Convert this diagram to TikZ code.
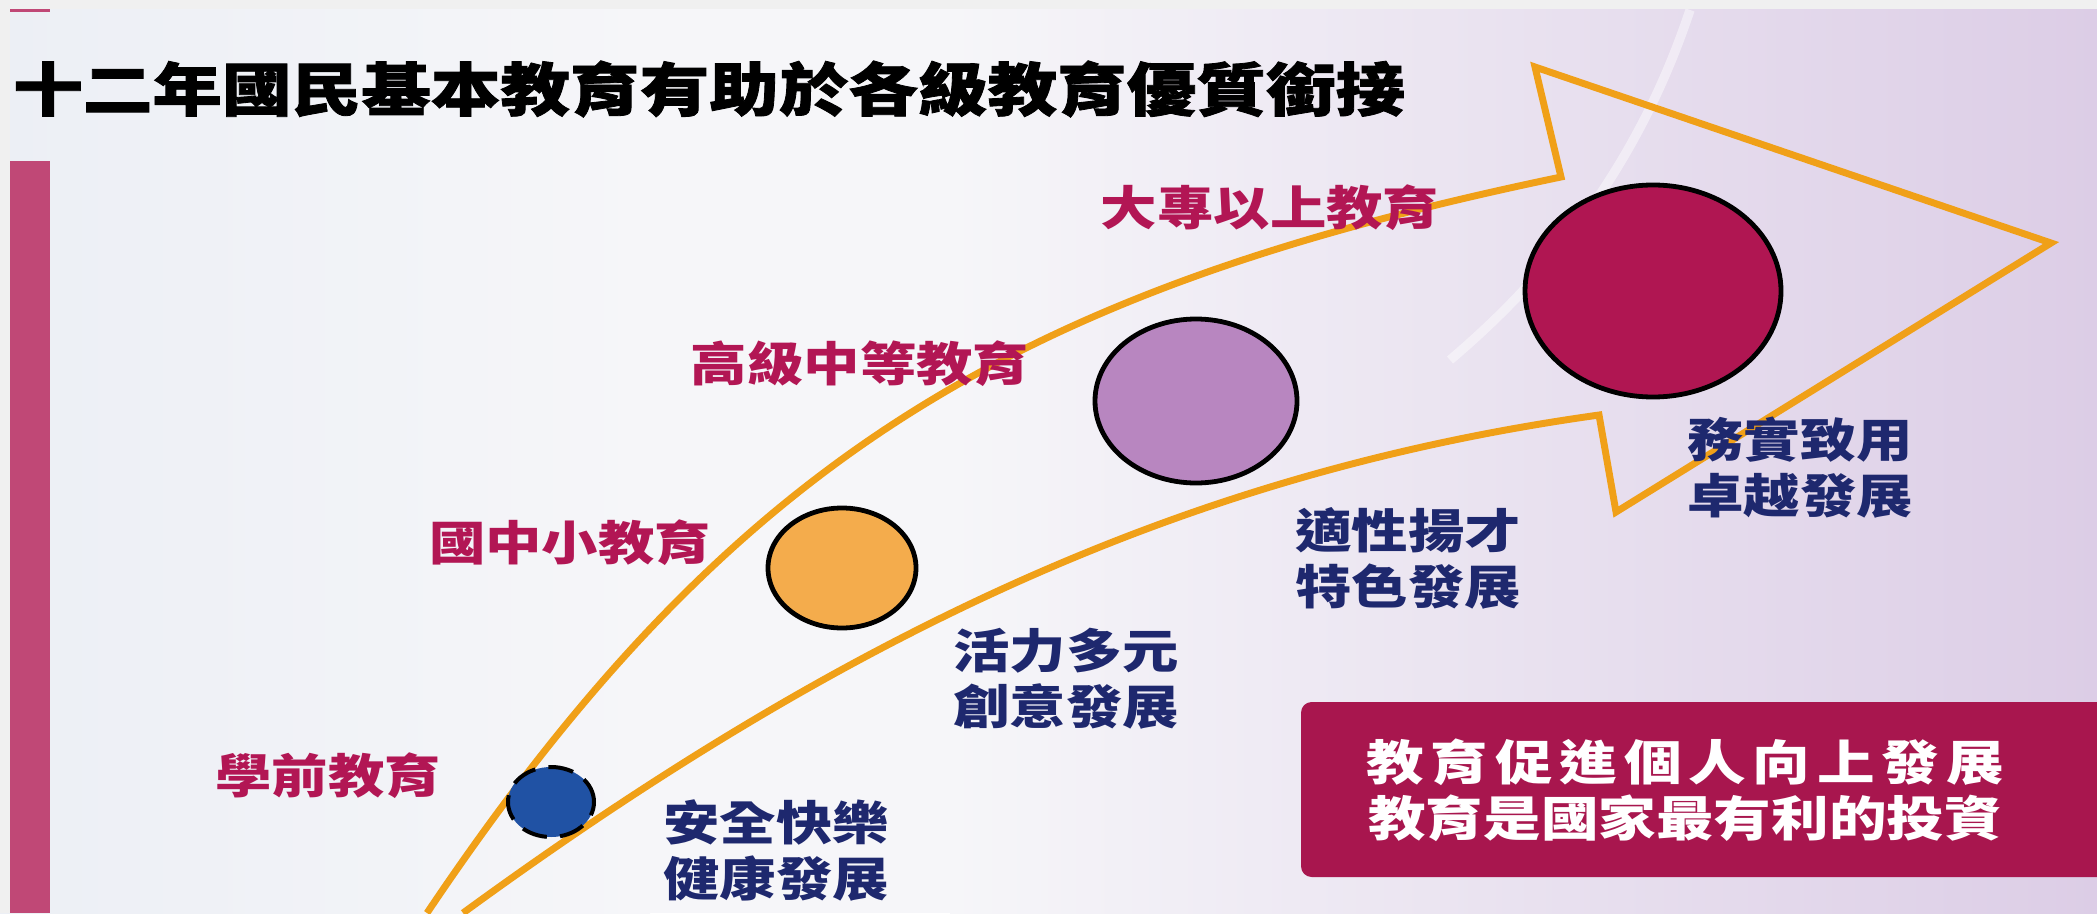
\documentclass[tikz,border=0pt]{standalone}
\usepackage{fontspec}
\usepackage{tikz}
\usetikzlibrary{shapes.geometric}
\newfontfamily\cjk[FakeStretch=1.2]{Noto Sans CJK TC}
\newfontfamily\cjkhead[FakeStretch=1.2,FakeBold=1.4]{Noto Sans CJK TC}
\definecolor{bgleft}{RGB}{236,239,245}
\definecolor{bgmid}{RGB}{246,246,249}
\definecolor{bgright}{RGB}{220,205,230}
\definecolor{frame}{RGB}{240,240,240}
\definecolor{barpink}{RGB}{192,72,118}
\definecolor{arrowgold}{RGB}{240,160,24}
\definecolor{levelred}{RGB}{178,22,84}
\definecolor{aimnavy}{RGB}{30,40,110}
\definecolor{mottored}{RGB}{168,22,78}
\definecolor{dotblue}{RGB}{32,82,164}
\definecolor{dotorange}{RGB}{244,172,76}
\definecolor{dotpurple}{RGB}{184,134,192}
\definecolor{dotcrimson}{RGB}{176,22,82}

\begin{document}
\begin{tikzpicture}[x=0.75pt,y=0.75pt,yscale=-1,xscale=1,
  stage/.style={ellipse,draw=black,line width=3.6pt,inner sep=0pt,outer sep=0pt},
  level/.style={text=levelred,inner sep=0.75pt,font=\cjk\bfseries\fontsize{35.25}{42}\selectfont},
  aim/.style={text=aimnavy,align=center,inner sep=0.75pt,font=\cjk\bfseries\fontsize{35.25}{42}\selectfont}]
\useasboundingbox (0,0) rectangle (2097,913);
\clip (0,0) rectangle (2097,913);

% Background
\fill [bgmid] (0,0) rectangle (2097,913);
\fill [left color=bgleft,right color=bgmid] (0,0) rectangle (650,913);
\fill [left color=bgmid,right color=bgright] (950,0) rectangle (2097,913);
\draw [white,opacity=0.45,line width=7pt] (1690,10) .. controls (1650,130) and (1580,250) .. (1450,360);
\fill [frame] (0,0) rectangle (2097,9);
\fill [frame] (0,0) rectangle (10,913);
\fill [barpink] (10,9) rectangle (50,12);
\fill [barpink] (10,161) rectangle (50,913);

% Shape: Arrow
\draw [arrowgold,line width=5.2pt,line join=miter] (427,913) .. controls (734,456) and (1018,290) .. (1561,177) -- (1535,67) -- (2051,243) -- (1616,512) -- (1599,415) .. controls (1206,470) and (866,619) .. (463,913);

% Shape: Ellipse
\draw (551,802) node [stage,fill=dotblue,line width=3pt,dash pattern=on 19pt off 10pt,minimum width=64.5pt,minimum height=52.5pt] (kinderdot) {};
% Shape: Ellipse
\draw (842,568) node [stage,fill=dotorange,minimum width=111pt,minimum height=90pt] (basicdot) {};
% Shape: Ellipse
\draw (1196,401) node [stage,fill=dotpurple,minimum width=151.5pt,minimum height=123pt] (seniordot) {};
% Shape: Ellipse
\draw (1653,291) node [stage,fill=dotcrimson,minimum width=192pt,minimum height=159pt] (higherdot) {};

% Text Node
\draw (13,89) node [anchor=west,inner sep=0pt,font=\cjkhead\bfseries\fontsize{43.5}{50}\selectfont] (title) {十二年國民基本教育有助於各級教育優質銜接};
% Text Node
\draw (328,776) node [level] (kinder) {學前教育};
% Text Node
\draw (570,543) node [level] (basic) {國中小教育};
% Text Node
\draw (860,364) node [level] (senior) {高級中等教育};
% Text Node
\draw (1270,208) node [level] (higher) {大專以上教育};
% Text Node
\draw (776,851) node [aim] (kinderaim) {安全快樂\\健康發展};
% Text Node
\draw (1066,679) node [aim] (basicaim) {活力多元\\創意發展};
% Text Node
\draw (1408,558) node [aim] (senioraim) {適性揚才\\特色發展};
% Text Node
\draw (1800,468) node [aim] (higheraim) {務實致用\\卓越發展};

% Shape: Rectangle
\fill [mottored,rounded corners=8pt] (1301,702) rectangle (2120,877);
% Text Node
\draw (1685,790) node [text=white,align=center,inner sep=0.75pt,font=\cjk\bfseries\fontsize{36}{42}\selectfont] (motto) {\makebox[478pt]{教\hfill 育\hfill 促\hfill 進\hfill 個\hfill 人\hfill 向\hfill 上\hfill 發\hfill 展}\\教育是國家最有利的投資};

\end{tikzpicture}
\end{document}
